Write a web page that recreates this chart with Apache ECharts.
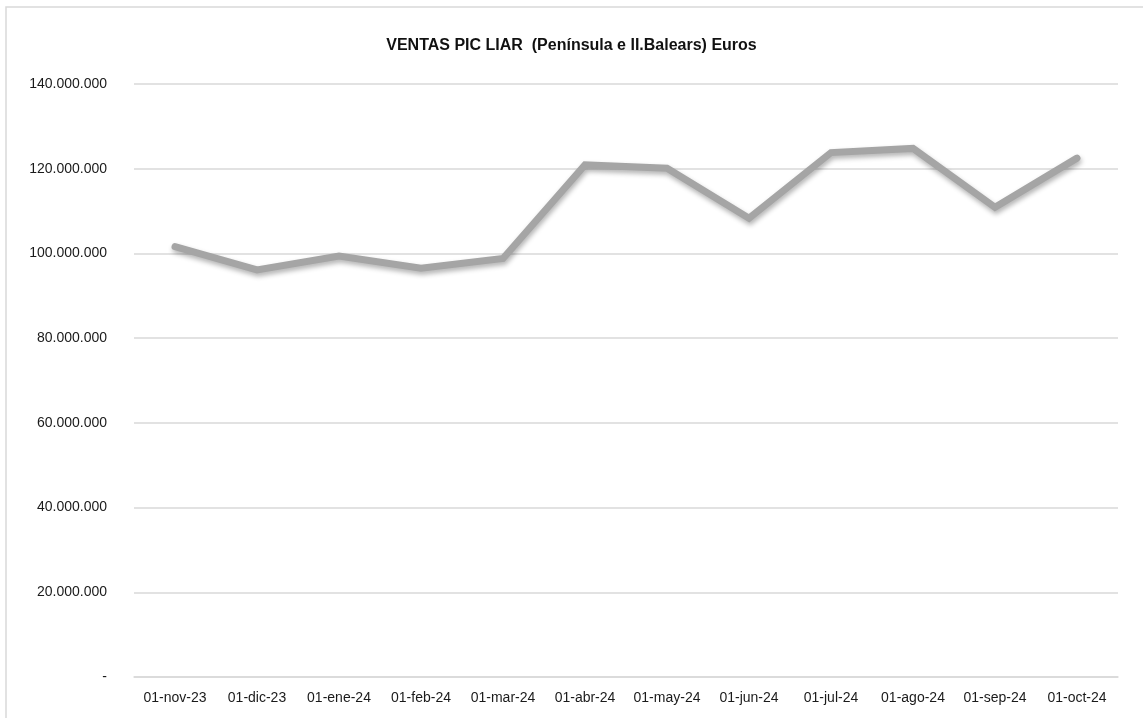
<!DOCTYPE html>
<html>
<head>
<meta charset="utf-8">
<script src="https://cdn.jsdelivr.net/npm/echarts@6/dist/echarts.min.js"></script>
<style>
  html, body { margin: 0; padding: 0; background: #fff; }
  #chart { width: 1143px; height: 718px; }
</style>
</head>
<body>
<div id="chart"></div>
<script>
const title = 'VENTAS PIC LIAR  (Península e II.Balears) Euros'
const months = [
  '01-nov-23', '01-dic-23', '01-ene-24', '01-feb-24', '01-mar-24', '01-abr-24',
  '01-may-24', '01-jun-24', '01-jul-24', '01-ago-24', '01-sep-24', '01-oct-24',
]
const ventas = [
  101600000, 96100000, 99400000, 96500000, 98800000, 120900000,
  120100000, 108300000, 123800000, 124800000, 110900000, 122500000,
]

const fmt = v => v === 0 ? '-' : String(v).replace(/\B(?=(\d{3})+(?!\d))/g, '.')

const chart = echarts.init(document.getElementById('chart'))
chart.setOption({
  animation: false,
  textStyle: { fontFamily: 'Liberation Sans' },
  title: {
    text: title,
    left: 'center',
    top: 33,
    textStyle: { color: '#111', fontSize: 16, fontWeight: 'bold', fontFamily: 'Liberation Sans' },
  },
  graphic: [{
    type: 'rect',
    shape: { x: 6, y: 7, width: 1160, height: 730 },
    style: { fill: 'none', stroke: '#d9d9d9', lineWidth: 1.5 },
  }],
  grid: { left: 134, right: 25, top: 84, bottom: 41 },
  xAxis: {
    type: 'category',
    data: months,
    axisLine: { lineStyle: { color: '#d9d9d9', width: 1.5 } },
    axisTick: { show: false },
    axisLabel: { color: '#1a1a1a', fontSize: 14, margin: 14, interval: 0 },
  },
  yAxis: {
    type: 'value',
    min: 0,
    max: 140000000,
    interval: 20000000,
    axisLine: { show: false },
    axisTick: { show: false },
    axisLabel: { color: '#1a1a1a', fontSize: 14, margin: 27, formatter: fmt },
    splitLine: { lineStyle: { color: '#d9d9d9', width: 1.5 } },
  },
  series: [{
    name: 'Ventas',
    type: 'line',
    data: ventas,
    symbol: 'none',
    lineStyle: {
      color: '#a5a5a5',
      width: 7,
      cap: 'round',
      join: 'miter',
      shadowColor: 'rgba(0,0,0,0.3)',
      shadowBlur: 5,
      shadowOffsetX: 1,
      shadowOffsetY: 3,
    },
  }],
})
</script>
</body>
</html>
